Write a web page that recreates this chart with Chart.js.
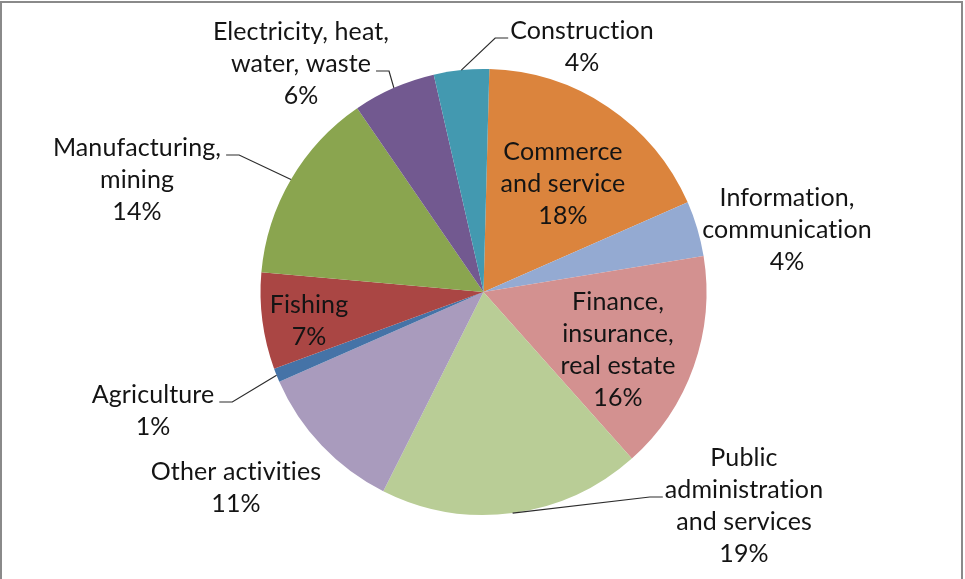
<!DOCTYPE html>
<html>
<head>
<meta charset="utf-8">
<title>Employment by sector</title>
<script src="https://cdn.jsdelivr.net/npm/chart.js@4/dist/chart.umd.min.js"></script>
<style>
    html, body { margin: 0; padding: 0; background: #ffffff; }
    #wrap { width: 965px; height: 579px; }
</style>
</head>
<body>
<div id="wrap"><canvas id="graficaSectores" width="965" height="579"></canvas></div>
<script>
// Sectores, en el orden en que se dibujan (desde arriba, sentido horario)
const categories = [
    ['Commerce', 'and service'],
    ['Information,', 'communication'],
    ['Finance,', 'insurance,', 'real estate'],
    ['Public', 'administration', 'and services'],
    ['Other activities'],
    ['Agriculture'],
    ['Fishing'],
    ['Manufacturing,', 'mining'],
    ['Electricity, heat,', 'water, waste'],
    ['Construction']
];

// Participación (%)
const shares = [18, 4, 16, 19, 11, 1, 7, 14, 6, 4];

const sliceColors = [
    '#db843d', '#94aad2', '#d39190', '#b9cd96', '#a99bbd',
    '#4573a7', '#aa4644', '#8aa54f', '#725990', '#4399b0'
];

const FONT = '25px Lato';
const LINE_H = 32;
const TEXT_COLOR = '#141414';
const LEADER_COLOR = '#2c2c2c';

// Centro horizontal y línea base de la primera línea de cada etiqueta.
// leader: de qué lado sale la línea guía y en qué renglón
const placement = [
    { x: 563, y: 160 },
    { x: 787, y: 206 },
    { x: 618, y: 310 },
    { x: 744, y: 466, leader: { side: 'left', line: 1 } },
    { x: 236, y: 480 },
    { x: 153, y: 403, leader: { side: 'right', line: 0 } },
    { x: 309, y: 313 },
    { x: 137, y: 156, leader: { side: 'right', line: 0 } },
    { x: 301, y: 40, leader: { side: 'right', line: 1 } },
    { x: 582, y: 39, leader: { side: 'left', line: 0 } }
];

// Marco gris alrededor del gráfico
const marco = {
    id: 'marco',
    beforeDraw(chart) {
        const ctx = chart.ctx;
        ctx.save();
        ctx.fillStyle = '#ffffff';
        ctx.fillRect(0, 0, chart.width, chart.height);
        ctx.strokeStyle = '#8a8a8a';
        ctx.lineWidth = 2;
        ctx.strokeRect(1, 2, 961, 640);
        ctx.restore();
    }
};

// Etiquetas de datos con líneas guía
const etiquetas = {
    id: 'etiquetas',
    afterDatasetsDraw(chart) {
        const ctx = chart.ctx;
        const arcs = chart.getDatasetMeta(0).data;
        ctx.save();
        ctx.font = FONT;
        // un poco de espaciado evita las ligaduras "ti" de Lato
        if ('letterSpacing' in ctx) ctx.letterSpacing = '0.1px';
        ctx.textAlign = 'center';
        ctx.textBaseline = 'alphabetic';

        arcs.forEach((arc, i) => {
            const p = placement[i];
            const lines = categories[i].concat(shares[i] + '%');

            if (p.leader) {
                const { x, y, startAngle, endAngle, outerRadius } =
                    arc.getProps(['x', 'y', 'startAngle', 'endAngle', 'outerRadius'], true);
                const mid = (startAngle + endAngle) / 2;
                const rx = x + Math.cos(mid) * outerRadius;
                const ry = y + Math.sin(mid) * outerRadius;

                const k = p.leader.line;
                const w = ctx.measureText(lines[k]).width;
                const ly = p.y + k * LINE_H - 1;
                let x0, x1;
                if (p.leader.side === 'right') {
                    x0 = p.x + w / 2 + 5;
                    x1 = x0 + 13;
                } else {
                    x0 = p.x - w / 2 - 2;
                    x1 = x0 - 13;
                }
                ctx.beginPath();
                ctx.moveTo(x0, ly);
                ctx.lineTo(x1, ly);
                ctx.lineTo(rx, ry);
                ctx.strokeStyle = LEADER_COLOR;
                ctx.lineWidth = 1.2;
                ctx.stroke();
            }

            ctx.fillStyle = TEXT_COLOR;
            lines.forEach((t, k) => ctx.fillText(t, p.x, p.y + k * LINE_H));
        });
        ctx.restore();
    }
};

const ctx = document.getElementById('graficaSectores').getContext('2d');
const chartSectores = new Chart(ctx, {
    type: 'pie',
    data: {
        labels: categories,
        datasets: [{
            data: shares,
            backgroundColor: sliceColors,
            borderWidth: 0
        }]
    },
    options: {
        responsive: false,
        animation: false,
        rotation: 1.5,
        layout: { padding: { top: 69, bottom: 64, left: 2, right: 0 } },
        plugins: {
            legend: { display: false },
            tooltip: { enabled: false }
        }
    },
    plugins: [marco, etiquetas]
});
</script>
</body>
</html>
